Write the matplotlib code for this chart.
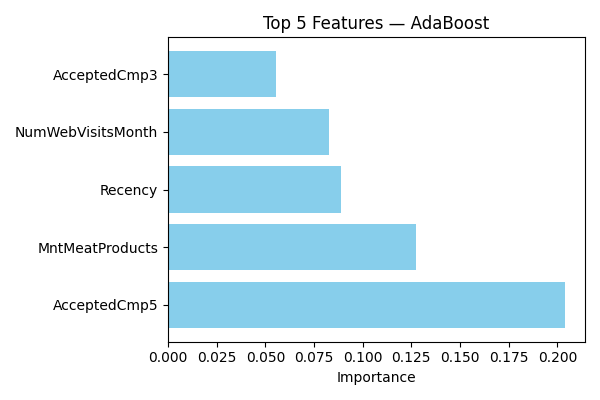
from matplotlib import pyplot as plt

#Feature importances
features = ['AcceptedCmp5', 'MntMeatProducts', 'Recency', 'NumWebVisitsMonth', 'AcceptedCmp3']
importances = [0.204, 0.1274, 0.0888, 0.0826, 0.0554]

plt.figure(figsize=(6, 4), dpi=100)
plt.barh(features, importances, color='skyblue')
plt.title('Top 5 Features — AdaBoost')
plt.xlabel('Importance')
plt.tight_layout()
plt.savefig('out.png')
